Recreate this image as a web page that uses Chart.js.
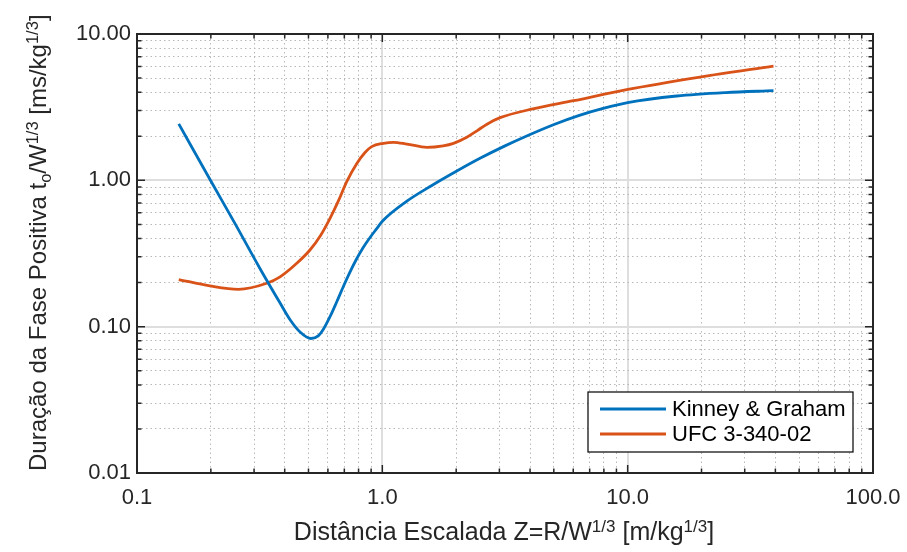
<!DOCTYPE html>
<html>
<head>
<meta charset="utf-8">
<script src="https://cdn.jsdelivr.net/npm/chart.js@4.4.1/dist/chart.umd.min.js"></script>
<style>
  html, body { margin:0; padding:0; background:#fff; }
  #wrap { position:relative; width:907px; height:552px; font-family:"Liberation Sans", Arial, sans-serif; color:#262626; }
  #c { position:absolute; left:0; top:0; }
  .ttl { position:absolute; white-space:nowrap; line-height:1; }
  .ttl sup { vertical-align:0.5em; line-height:0; }
  .ttl sub { vertical-align:-0.3em; line-height:0; }
  #xt { left:0; width:1008px; text-align:center; top:519px; font-size:25px; }
  #xt sup { font-size:17px; }
  #yt { left:0; top:0; font-size:24px; transform-origin:0 0; transform:translate(26px, 471px) rotate(-90deg); }
  #yt sup, #yt sub { font-size:16.5px; }
</style>
</head>
<body>
<div id="wrap">
  <canvas id="c" width="907" height="552"></canvas>
  <div class="ttl" id="xt">Distância Escalada Z=R/W<sup>1/3</sup> [m/kg<sup>1/3</sup>]</div>
  <div class="ttl" id="yt">Duração da Fase Positiva t<sub>o</sub>/W<sup>1/3</sup> [ms/kg<sup>1/3</sup>]</div>
</div>
<script>
// ---- data ----
const seriesNames = ["Kinney & Graham", "UFC 3-340-02"];
const kinneyZ = [0.148, 0.2, 0.25, 0.317, 0.383, 0.42, 0.462, 0.512, 0.548, 0.575, 0.612, 0.652, 0.693, 0.738, 0.786, 0.837, 0.891, 0.949, 1.0, 1.259, 1.585, 1.995, 2.512, 3.162, 3.981, 5.012, 6.31, 7.943, 10, 15.85, 25.12, 39.3];
const kinneyT = [2.43, 0.99, 0.512, 0.25, 0.145, 0.112, 0.092, 0.083, 0.0865, 0.096, 0.117, 0.148, 0.1875, 0.236, 0.291, 0.349, 0.407, 0.468, 0.525, 0.72, 0.918, 1.148, 1.419, 1.72, 2.05, 2.41, 2.77, 3.10, 3.40, 3.77, 3.98, 4.10];
const ufcZ = [0.148, 0.198, 0.259, 0.338, 0.383, 0.448, 0.507, 0.56, 0.612, 0.665, 0.716, 0.786, 0.85, 0.905, 1.01, 1.11, 1.26, 1.52, 1.77, 1.95, 2.21, 2.43, 2.67, 3.02, 4.11, 6.01, 9.9, 19.7, 39.3];
const ufcT = [0.21, 0.19, 0.18, 0.198, 0.219, 0.271, 0.334, 0.42, 0.55, 0.735, 0.98, 1.30, 1.55, 1.70, 1.79, 1.82, 1.77, 1.68, 1.72, 1.79, 1.97, 2.18, 2.42, 2.68, 3.08, 3.5, 4.17, 5.08, 6.04];
const xDecades = [0.1, 1, 10, 100];
const yDecades = [0.01, 0.1, 1, 10];
const xTickLabels = ["0.1", "1.0", "10.0", "100.0"];
const yTickLabels = ["0.01", "0.10", "1.00", "10.00"];
const seriesColors = ["#0072BD", "#D95319"];

function logTicks(decades) {
  const out = [];
  for (let d = 0; d < decades.length - 1; d++) {
    for (let m = 1; m <= 9; m++) out.push(+(decades[d] * m).toPrecision(6));
  }
  out.push(decades[decades.length - 1]);
  return out;
}
function isMajor(v, decades) { return decades.some(d => Math.abs(v - d) < d * 1e-6); }
function labelFor(v, decades, labels) {
  const i = decades.findIndex(d => Math.abs(v - d) < d * 1e-6);
  return i >= 0 ? labels[i] : "";
}
const FONT = "'Liberation Sans', Arial, sans-serif";
const AX = "#262626";

const framePlugin = {
  id: "frame",
  afterDraw(chart) {
    const { ctx, chartArea: a, scales } = chart;
    ctx.save();
    ctx.strokeStyle = AX;
    ctx.lineWidth = 1.5;
    const xs = scales.x, ys = scales.y;
    xs.ticks.forEach(t => {
      const p = xs.getPixelForValue(t.value);
      const L = isMajor(t.value, xDecades) ? 8 : 4.5;
      ctx.beginPath();
      ctx.moveTo(p, a.bottom); ctx.lineTo(p, a.bottom - L);
      ctx.moveTo(p, a.top); ctx.lineTo(p, a.top + L);
      ctx.stroke();
    });
    ys.ticks.forEach(t => {
      const p = ys.getPixelForValue(t.value);
      const L = isMajor(t.value, yDecades) ? 8 : 4.5;
      ctx.beginPath();
      ctx.moveTo(a.left, p); ctx.lineTo(a.left + L, p);
      ctx.moveTo(a.right, p); ctx.lineTo(a.right - L, p);
      ctx.stroke();
    });
    ctx.lineWidth = 2;
    ctx.strokeRect(a.left, a.top, a.right - a.left, a.bottom - a.top);
    // legend (inside, lower right)
    const lx = 588, ly = 392, lw = 265, lh = 60;
    ctx.fillStyle = "#fff";
    ctx.fillRect(lx, ly, lw, lh);
    ctx.strokeStyle = "#000";
    ctx.lineWidth = 1.2;
    ctx.strokeRect(lx, ly, lw, lh);
    ctx.font = "22px " + FONT;
    ctx.textBaseline = "middle";
    chart.data.datasets.forEach((ds, i) => {
      const yy = ly + 17 + i * 25;
      ctx.strokeStyle = ds.borderColor;
      ctx.lineWidth = 2.8;
      ctx.beginPath();
      ctx.moveTo(lx + 12, yy); ctx.lineTo(lx + 78, yy);
      ctx.stroke();
      ctx.fillStyle = "#000";
      ctx.fillText(ds.label, lx + 84, yy + 1);
    });
    ctx.restore();
  }
};

const gridCfg = (decades) => ({
  color: (c) => (c.tick && isMajor(c.tick.value, decades)) ? "#dedede" : "#b8b8b8",
  lineWidth: (c) => (c.tick && isMajor(c.tick.value, decades)) ? 2 : 1,
  drawTicks: false
});
const borderCfg = (decades) => ({
  display: false,
  dash: (c) => (c.tick && isMajor(c.tick.value, decades)) ? [] : [1.5, 3]
});

new Chart(document.getElementById("c"), {
  type: "line",
  data: {
    datasets: [
      { label: seriesNames[0], data: kinneyZ.map((z, i) => ({ x: z, y: kinneyT[i] })), borderColor: seriesColors[0] },
      { label: seriesNames[1], data: ufcZ.map((z, i) => ({ x: z, y: ufcT[i] })), borderColor: seriesColors[1] }
    ]
  },
  options: {
    responsive: false,
    animation: false,
    devicePixelRatio: 1,
    layout: { padding: { left: 0, right: 34, top: 34, bottom: 0 } },
    elements: {
      line: { borderWidth: 2.8, cubicInterpolationMode: "monotone", fill: false },
      point: { radius: 0, hoverRadius: 0 }
    },
    plugins: { legend: { display: false }, tooltip: { enabled: false } },
    scales: {
      x: {
        type: "logarithmic", min: 0.1, max: 100,
        afterBuildTicks: (s) => { s.ticks = logTicks(xDecades).map(v => ({ value: v })); },
        afterFit: (s) => { s.height = 79; s.paddingLeft = 0; s.paddingRight = 0; },
        grid: gridCfg(xDecades),
        border: borderCfg(xDecades),
        ticks: {
          autoSkip: false, maxRotation: 0, padding: 12, color: AX,
          font: { size: 22, family: FONT },
          callback: (v) => labelFor(v, xDecades, xTickLabels)
        }
      },
      y: {
        type: "logarithmic", min: 0.01, max: 10,
        afterBuildTicks: (s) => { s.ticks = logTicks(yDecades).map(v => ({ value: v })); },
        afterFit: (s) => { s.width = 137; s.paddingTop = 0; s.paddingBottom = 0; },
        grid: gridCfg(yDecades),
        border: borderCfg(yDecades),
        ticks: {
          autoSkip: false, padding: 6, color: AX,
          font: { size: 22, family: FONT },
          callback: (v) => labelFor(v, yDecades, yTickLabels)
        }
      }
    }
  },
  plugins: [framePlugin]
});
</script>
</body>
</html>
